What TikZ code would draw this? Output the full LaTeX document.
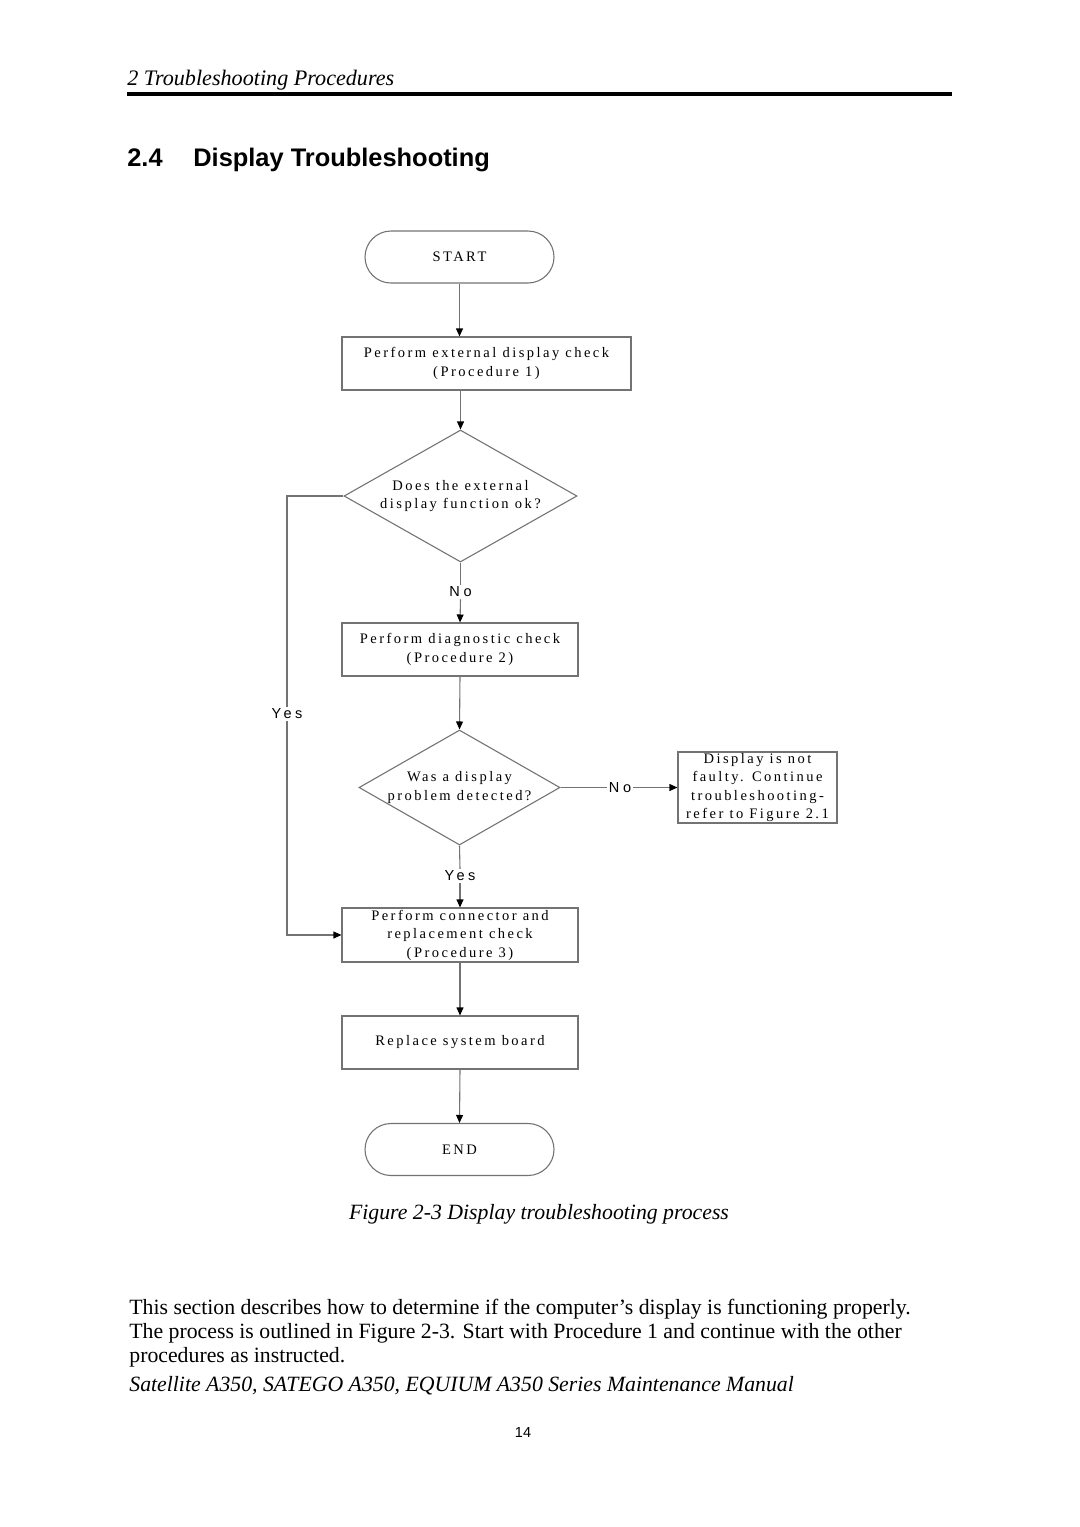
\documentclass[tikz,border=0pt]{standalone}
\usepackage{fontspec}
\setmainfont{Liberation Serif}
\setsansfont{Liberation Sans}
\newfontfamily\flowfont[LetterSpace=17]{Liberation Serif}
\newfontfamily\flowsans[LetterSpace=25]{Liberation Sans}
\newfontfamily\pagefont{Liberation Serif}
\usetikzlibrary{shapes.geometric,shapes.misc,arrows.meta}
\newcommand{\px}{0.551pt}

\begin{document}
\begin{tikzpicture}[x=0.551pt,y=-0.551pt,
    line/.style={draw=black!55,line width=0.6pt},
    arr/.style={line,-{Triangle[length=4.4pt,width=3.8pt,color=black]}},
    box/.style={line,rectangle,inner sep=0pt,align=center,
      font=\flowfont\fontsize{8}{10.2}\selectfont},
    term/.style={box,rounded rectangle,rounded rectangle arc length=180,
      minimum width=189*\px,minimum height=52*\px},
    ask/.style={box,diamond,aspect=1.75},
    tag/.style={font=\flowsans\fontsize{8}{10}\selectfont,inner sep=1pt}]
  \useasboundingbox (0,0) rectangle (1080,1527);

  % page header
  \node(hdr)[anchor=base west,inner sep=0pt,font=\pagefont\itshape\fontsize{12.2}{14}\selectfont] at (127,85) {2 Troubleshooting Procedures};
  \draw[line width=2.2pt] (127,94) -- (952,94);
  \node(secno)[anchor=base west,inner sep=0pt,font=\sffamily\bfseries\fontsize{14}{16}\selectfont] at (127,166) {2.4};
  \node(sec)[anchor=base west,inner sep=0pt,font=\sffamily\bfseries\fontsize{14}{16}\selectfont] at (193,166) {Display Troubleshooting};

  % flowchart
  \node(S)[term] at (459.5,257) {START};
  \node(P1)[box,minimum width=289*\px,minimum height=53*\px] at (486.5,363.5) {Perform external display check\\(Procedure 1)};
  \node(D1)[ask,minimum width=233*\px,minimum height=132*\px] at (460.5,496) {Does the external\\display function ok?};
  \node(N1)[tag] at (460.5,592) {No};
  \node(P2)[box,minimum width=236*\px,minimum height=53*\px] at (460,649.5) {Perform diagnostic check\\(Procedure 2)};
  \node(D2)[ask,minimum width=201*\px,minimum height=115*\px] at (459.5,787.5) {Was a display\\problem detected?};
  \node(N2)[tag] at (620,787.5) {No};
  \node(OK)[box,minimum width=159*\px,minimum height=71*\px] at (757.5,787.5) {Display is not\\faulty. Continue\\troubleshooting-\\refer to Figure 2.1};
  \node(Y2)[tag] at (460,876) {Yes};
  \node(P3)[box,minimum width=236*\px,minimum height=54*\px] at (460,935) {Perform connector and\\replacement check\\(Procedure 3)};
  \node(Y1)[tag] at (287,714) {Yes};
  \node(P4)[box,minimum width=236*\px,minimum height=53*\px] at (460,1042.5) {Replace system board};
  \node(E)[term] at (459.5,1149.5) {END};

  \draw[arr] (S.south) -- (S.south |- P1.north);
  \draw[arr] (D1.north |- P1.south) -- (D1.north);
  \draw[line] (D1.south) -- (N1.north);
  \draw[arr] (N1.south) -- (P2.north);
  \draw[arr] (P2.south) -- (D2.north);
  \draw[line] (D2.east) -- (N2.west);
  \draw[arr] (N2.east) -- (OK.west);
  \draw[line] (D2.south) -- (Y2.north);
  \draw[arr] (Y2.south) -- (P3.north);
  \draw[line] (D1.west) -| (Y1.north);
  \draw[arr] (Y1.south) |- (P3.west);
  \draw[arr] (P3.south) -- (P4.north);
  \draw[arr] (P4.south) -- (E.north);

  % caption and text
  \node(cap)[anchor=base,inner sep=0pt,font=\pagefont\itshape\fontsize{12}{14}\selectfont] at (539,1219) {Figure 2-3 Display troubleshooting process};
  \node(L1)[anchor=base west,inner sep=0pt,font=\pagefont\fontsize{12}{14}\selectfont] at (129,1314) {This section describes how to determine if the computer’s display is functioning properly.};
  \node(L2)[anchor=base west,inner sep=0pt,font=\pagefont\fontsize{12}{14}\selectfont] at (129,1338) {The process is outlined in Figure 2-3. Start with Procedure 1 and continue with the other};
  \node(L3)[anchor=base west,inner sep=0pt,font=\pagefont\fontsize{12}{14}\selectfont] at (129,1362) {procedures as instructed.};
  \node(man)[anchor=base west,inner sep=0pt,font=\pagefont\itshape\fontsize{12}{14}\selectfont] at (129,1391) {Satellite A350, SATEGO A350, EQUIUM A350 Series Maintenance Manual};
  \node(pg)[anchor=base,inner sep=0pt,font=\sffamily\fontsize{8}{10}\selectfont] at (523,1437) {14};
\end{tikzpicture}
\end{document}
